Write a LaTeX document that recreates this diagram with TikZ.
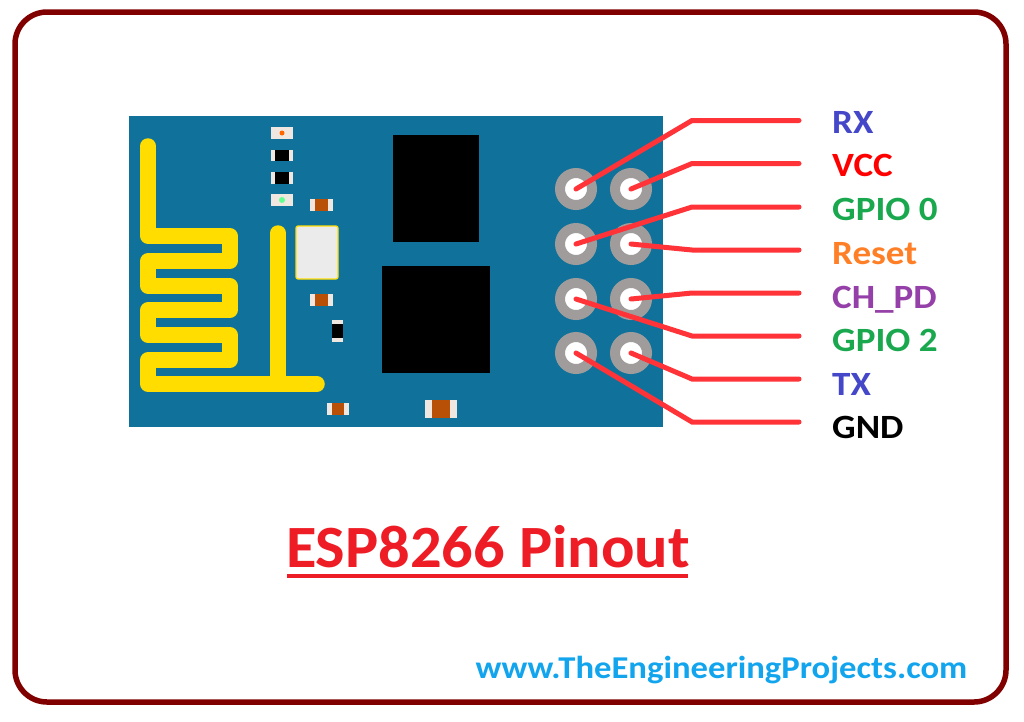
\documentclass[tikz,border=0pt]{standalone}
\usepackage{fontspec}
\setmainfont{Carlito}
\newfontfamily\widefont[FakeStretch=1.09]{Carlito}
\newfontfamily\titlefont[FakeStretch=1.04]{Carlito}
\usepackage{tikz}
\usetikzlibrary{positioning}
\definecolor{boardblue}{HTML}{10729A}
\definecolor{tracegold}{HTML}{FFDD00}
\definecolor{holegray}{HTML}{A09C9C}
\definecolor{wirered}{HTML}{FF3338}
\definecolor{framered}{HTML}{800000}
\definecolor{titlered}{HTML}{EE1C25}
\definecolor{resbrown}{HTML}{B85008}
\definecolor{sidewhite}{HTML}{F0E8E0}
\definecolor{rxblue}{HTML}{4347C8}
\definecolor{pingreen}{HTML}{1AA84E}
\definecolor{resetorange}{HTML}{FF7F27}
\definecolor{pdpurple}{HTML}{9540A8}
\definecolor{webblue}{HTML}{12A5EE}
\tikzset{
    pinhole/.style={
           circle,
           fill=white,
           draw=holegray, line width=10pt,
           minimum size=32pt,
           inner sep=0pt,
           outer sep=0pt,
           },
    pinlabel/.style={
           anchor=west,
           inner xsep=33pt,
           inner ysep=0pt,
           text depth=0pt,
           font=\widefont\fontsize{34}{34}\selectfont\bfseries,
           },
    wire/.style={
           draw=wirered,
           line width=5pt,
           line cap=round,
           },
    trace/.style={
           draw=tracegold,
           line width=15.5pt,
           line cap=round,
           line join=round,
           },
    resbody/.style={fill=resbrown},
    sidecap/.style={fill=sidewhite},
}
\begin{document}
\begin{tikzpicture}[x=1pt,y=-1pt]
 \useasboundingbox (0,0) rectangle (1024,721);

 % outer frame and board
 \draw[framered, line width=5.5pt, rounded corners=32pt] (15,12) rectangle (1006,702);
 \fill[boardblue] (129,116) rectangle (663,427);

 % antenna traces
 \draw[trace] (148,146) -- (148,236) -- (230,236) -- (230,261) -- (148,261)
  -- (148,286) -- (230,286) -- (230,310) -- (148,310) -- (148,335)
  -- (230,335) -- (230,360) -- (148,360) -- (148,384) -- (317,384);
 \draw[trace] (278,233) -- (278,384);

 % the two chips
 \fill[black] (393,135) rectangle (479,242);
 \fill[black] (382,266) rectangle (490,373);

 % crystal pad
 \draw[tracegold, fill=black!8, line width=1.2pt, rounded corners=2pt] (296,226) rectangle (338,279);

 % parts in the upper row
 \fill[sidecap] (271,127) rectangle (293,139);
 \fill[orange!80!red] (282,133) circle (2.5pt);
 \fill[sidecap] (271,150) rectangle (293,161);
 \fill[black] (275,150) rectangle (289,161);
 \fill[sidecap] (271,172) rectangle (293,184);
 \fill[black] (275,172) rectangle (289,184);
 \fill[sidecap] (271,194) rectangle (293,206);
 \fill[green!70!cyan!60!white] (282,200) circle (3pt);

 % resistors
 \fill[sidecap] (310,199) rectangle (333,211);
 \fill[resbody] (315,199) rectangle (328,211);
 \fill[sidecap] (310,294) rectangle (333,306);
 \fill[resbody] (315,294) rectangle (328,306);
 \fill[sidecap] (327,403) rectangle (349,415);
 \fill[resbody] (332,403) rectangle (344,415);
 \fill[sidecap] (425,400) rectangle (457,418);
 \fill[resbody] (432,400) rectangle (450,418);
 \fill[sidecap] (332,320) rectangle (343,342);
 \fill[black] (332,324) rectangle (343,338);

 % header pins
 \node[pinhole] (PA) at (576,189) {};
 \node[pinhole, right=23pt of PA] (PB) {};
 \node[pinhole] (PC) at (576,244) {};
 \node[pinhole, right=23pt of PC] (PD) {};
 \node[pinhole] (PE) at (576,299) {};
 \node[pinhole, right=23pt of PE] (PF) {};
 \node[pinhole] (PG) at (576,353) {};
 \node[pinhole, right=23pt of PG] (PH) {};

 % pin names, text height moves each name against its wire
 \node[pinlabel, text=rxblue, text height=25pt] (RX) at (799,120.5) {RX};
 \node[pinlabel, text=red, text height=25pt] (VCC) at (799,163.5) {VCC};
 \node[pinlabel, text=pingreen, text height=27pt] (GPIOA) at (799,207) {GPIO 0};
 \node[pinlabel, text=resetorange, text height=29pt] (RESET) at (799,250) {Reset};
 \node[pinlabel, text=pdpurple, text height=31pt] (CHPD) at (799,293) {CH\_PD};
 \node[pinlabel, text=pingreen, text height=31pt] (GPIOB) at (799,336) {GPIO 2};
 \node[pinlabel, text=rxblue, text height=33pt] (TX) at (799,379) {TX};
 \node[pinlabel, text=black, text height=33pt] (GND) at (799,422) {GND};

 % draw the wires from the pins to the names
 \path[wire]
 (PA.center) -- (692,120.5) -- (RX.west)
 (PB.center) -- (692,163.5) -- (VCC.west)
 (PC.center) -- (692,207) -- (GPIOA.west)
 (PD.center) -- (692,250) -- (RESET.west)
 (PF.center) -- (692,293) -- (CHPD.west)
 (PE.center) -- (692,336) -- (GPIOB.west)
 (PH.center) -- (692,379) -- (TX.west)
 (PG.center) -- (692,422) -- (GND.west)
 ;

 % title and web address
 \node[text=titlered, inner sep=0pt, anchor=base, font=\titlefont\fontsize{60}{60}\selectfont\bfseries] (TITLE) at (488,567) {ESP8266 Pinout};
 \draw[titlered, line width=4pt] (287,576) -- (688,576);
 \node[text=webblue, inner sep=0pt, anchor=base, font=\widefont\fontsize{31.8}{32}\selectfont\bfseries] (WEB) at (721.5,678) {www.TheEngineeringProjects.com};
\end{tikzpicture}
\end{document}
